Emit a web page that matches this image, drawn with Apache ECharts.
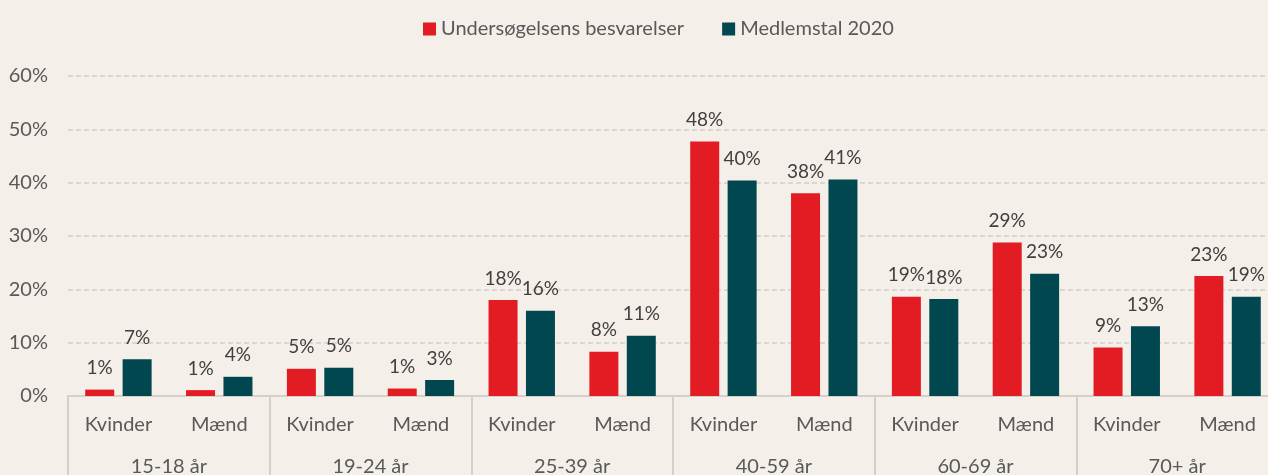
<!DOCTYPE html>
<html>
<head>
<meta charset="utf-8">
<script src="https://cdn.jsdelivr.net/npm/echarts@6/dist/echarts.min.js"></script>
<style>
html,body{margin:0;padding:0;background:#F5EFEA;}
#c{width:1268px;height:475px;}
</style>
</head>
<body>
<div id="c"></div>
<script>
const genders = ["Kvinder","Mænd","Kvinder","Mænd","Kvinder","Mænd","Kvinder","Mænd","Kvinder","Mænd","Kvinder","Mænd"];
const ageGroups = ["15-18 år","19-24 år","25-39 år","40-59 år","60-69 år","70+ år"];
const seriesNames = ["Undersøgelsens besvarelser","Medlemstal 2020"];
const survey = [1.2, 1.1, 5.1, 1.4, 18.0, 8.3, 47.7, 38.0, 18.6, 28.8, 9.1, 22.5];
const members2020 = [6.9, 3.6, 5.3, 3.0, 16.0, 11.3, 40.4, 40.6, 18.2, 22.9, 13.1, 18.6];
const yTicks = [0, 10, 20, 30, 40, 50, 60];

const FONT = 'Lato';
const chart = echarts.init(document.getElementById('c'), null, {renderer:'canvas'});
const labelCfg = {
  show: true, position: 'top', distance: 12,
  color: '#404040', fontFamily: FONT, fontSize: 19,
  formatter: p => Math.round(p.value) + '%'
};
chart.setOption({
  backgroundColor: '#F5EFEA',
  animation: false,
  textStyle: {fontFamily: FONT},
  legend: {
    top: 14, left: 418,
    itemWidth: 13, itemHeight: 13, itemGap: 38,
    icon: 'rect',
    textStyle: {fontFamily: FONT, fontSize: 20, color: '#595959'},
    data: seriesNames
  },
  grid: {left: 68, right: -10, top: 76, bottom: 79, containLabel: false, outerBoundsMode: 'none'},
  xAxis: [
    {
      type: 'category', data: genders, position: 'bottom',
      axisLine: {show: true, lineStyle: {color: '#D5D0CB', width: 2}},
      axisTick: {show: false},
      axisLabel: {margin: 19, color: '#595959', fontFamily: FONT, fontSize: 20, interval: 0}
    },
    {
      type: 'category', data: ageGroups, position: 'bottom',
      axisLine: {show: false},
      axisTick: {show: true, length: 90, interval: 0, lineStyle: {color: '#D5D0CB', width: 2}},
      axisLabel: {margin: 61, color: '#595959', fontFamily: FONT, fontSize: 20, interval: 0}
    }
  ],
  yAxis: {
    type: 'value', min: yTicks[0], max: yTicks[yTicks.length-1], interval: 10,
    axisLine: {show: false}, axisTick: {show: false},
    axisLabel: {margin: 20, color: '#595959', fontFamily: FONT, fontSize: 20, formatter: '{value}%'},
    splitLine: {show: true, lineStyle: {color: '#D3CEC9', width: 1.5, type: [5, 3]}}
  },
  series: [
    {name: seriesNames[0], type: 'bar', data: survey, barWidth: 29, barGap: '29%',
     itemStyle: {color: '#E31B23'}, label: labelCfg, xAxisIndex: 0},
    {name: seriesNames[1], type: 'bar', data: members2020, barWidth: 29, barGap: '29%',
     itemStyle: {color: '#00474F'}, label: labelCfg, xAxisIndex: 0}
  ]
});
</script>
</body>
</html>
